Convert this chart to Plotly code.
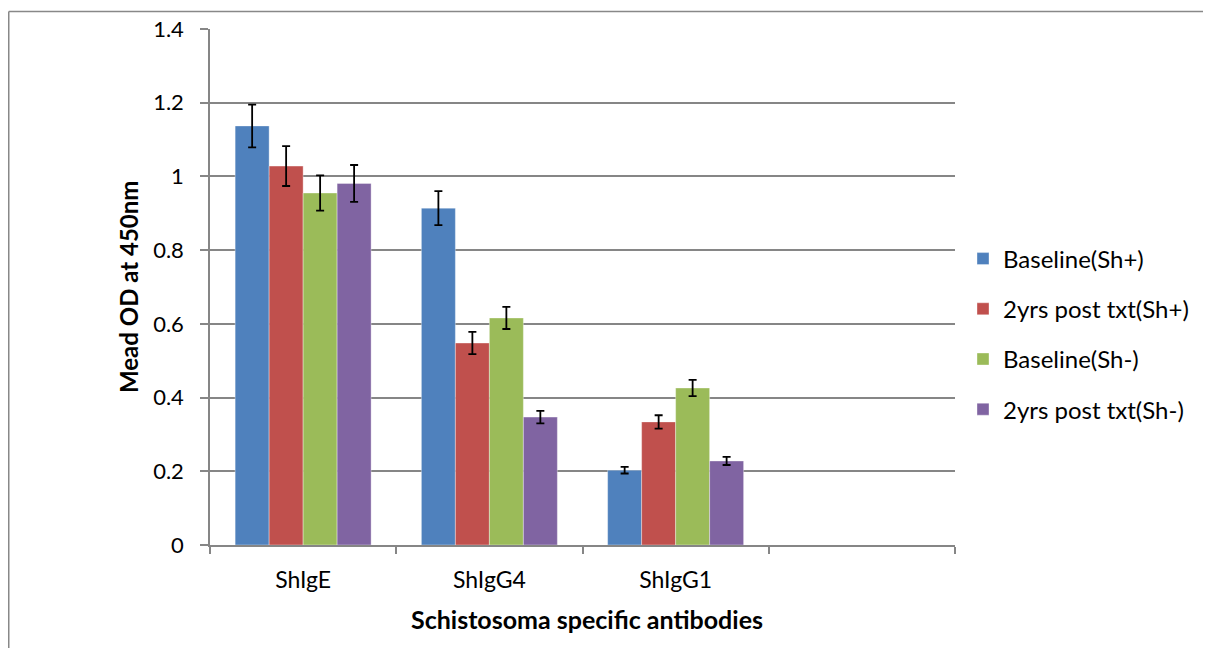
import plotly.graph_objects as go

categories = ["ShIgE", "ShIgG4", "ShIgG1"]
axis_categories = ["ShIgE", "ShIgG4", "ShIgG1", " "]
series_names = ["Baseline(Sh+)", "2yrs post txt(Sh+)", "Baseline(Sh-)", "2yrs post txt(Sh-)"]
baseline_pos = [1.137, 0.914, 0.203]
post_pos = [1.028, 0.548, 0.334]
baseline_neg = [0.955, 0.616, 0.426]
post_neg = [0.981, 0.347, 0.228]
err_baseline_pos = [0.058, 0.046, 0.009]
err_post_pos = [0.054, 0.030, 0.018]
err_baseline_neg = [0.048, 0.030, 0.022]
err_post_neg = [0.050, 0.017, 0.011]
colors = ["#4F81BD", "#C0504D", "#9BBB59", "#8064A2"]

values = [baseline_pos, post_pos, baseline_neg, post_neg]
errors = [err_baseline_pos, err_post_pos, err_baseline_neg, err_post_neg]

FONT = "Lato, 'Open Sans', sans-serif"
OFF = 8  # page body margin
W, H = 1203, 640
L, R, T, B = 202, 256, 21, 103

fig = go.Figure()
for i, name in enumerate(series_names):
    fig.add_trace(go.Bar(
        x=categories, y=values[i], name=name,
        marker=dict(color=colors[i], line=dict(color="rgba(255,255,255,0.6)", width=0.6)),
        error_y=dict(type="data", array=errors[i], visible=True, color="black", thickness=1.8, width=4),
        legendgroup=name,
    ))

pw = W - L - R
ph = H - T - B
def px2x(px):
    return (px - OFF - L) / pw
def px2y(py):
    return (H - B - (py - OFF)) / ph

fig.update_layout(
    width=W, height=H,
    margin=dict(l=L, r=R, t=T, b=B, autoexpand=False),
    paper_bgcolor="white", plot_bgcolor="white",
    barmode="group", bargap=0.27, bargroupgap=0,
    font=dict(family=FONT, color="black"),
    showlegend=True,
    legend=dict(x=px2x(963), y=px2y(334), xanchor="left", yanchor="middle",
                font=dict(family=FONT, size=24, color="black"),
                tracegroupgap=16, bgcolor="rgba(0,0,0,0)", itemwidth=30),
    xaxis=dict(type="category", categoryorder="array", categoryarray=axis_categories,
               range=[-0.5, 3.5], tickson="boundaries", ticks="outside", ticklen=7,
               tickcolor="#868686", tickwidth=1.5,
               showline=True, linecolor="#868686", linewidth=1.5,
               showgrid=False, zeroline=False, ticklabelstandoff=14,
               tickfont=dict(family=FONT, size=23, color="black"),
               fixedrange=True),
    yaxis=dict(range=[0, 1.4], tickvals=[0, 0.2, 0.4, 0.6, 0.8, 1, 1.2, 1.4],
               ticktext=["0", "0.2", "0.4", "0.6", "0.8", "1", "1.2", "1.4"],
               ticks="outside", ticklen=8, tickcolor="#868686", tickwidth=1.5,
               showline=True, linecolor="#868686", linewidth=1.5,
               showgrid=True, gridcolor="#868686", gridwidth=1.5,
               zeroline=False, ticklabelstandoff=12,
               tickfont=dict(family=FONT, size=22, color="black")),
    annotations=[
        dict(text="<b>Schistosoma specific antibodies</b>", xref="paper", yref="paper",
             x=px2x(587), y=px2y(619), xanchor="center", yanchor="middle", showarrow=False,
             font=dict(family=FONT, size=25, color="black")),
        dict(text="<b>Mead OD at 450nm</b>", xref="paper", yref="paper",
             x=px2x(128), y=px2y(287), xanchor="center", yanchor="middle", showarrow=False,
             textangle=-90, font=dict(family=FONT, size=24, color="black")),
    ],
    shapes=[
        dict(type="line", xref="paper", yref="paper", x0=px2x(8.75), x1=px2x(1215),
             y0=px2y(11.5), y1=px2y(11.5), line=dict(color="#888888", width=1.5)),
        dict(type="line", xref="paper", yref="paper", x0=px2x(8.75), x1=px2x(8.75),
             y0=px2y(11.5), y1=px2y(660), line=dict(color="#888888", width=1.5)),
    ],
)

fig.write_html("out.html")
